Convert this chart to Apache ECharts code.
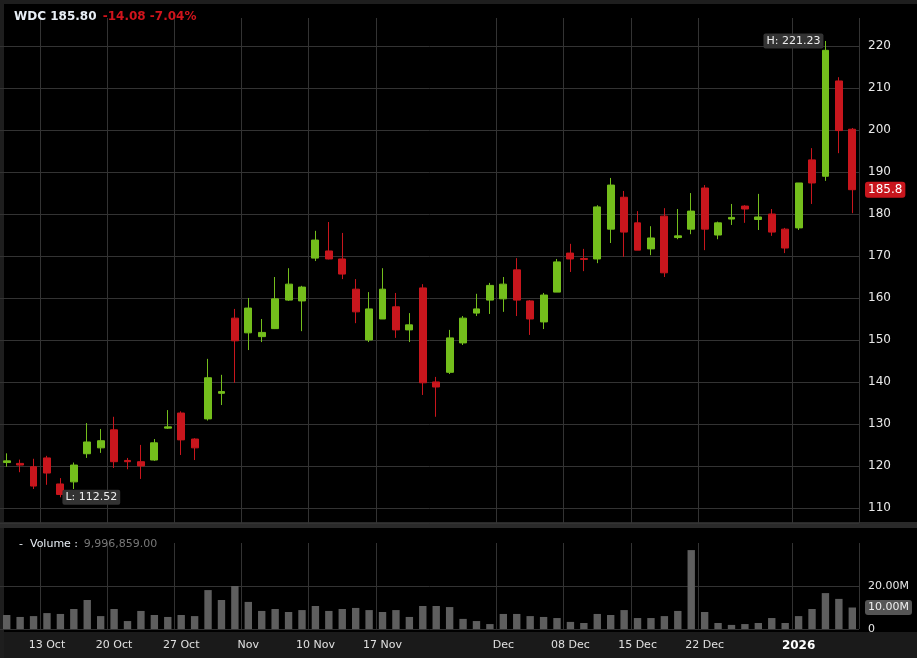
<!DOCTYPE html>
<html>
<head>
<meta charset="utf-8">
<script src="https://cdn.jsdelivr.net/npm/echarts@6/dist/echarts.min.js"></script>
<style>html,body{margin:0;background:#000;}#chart{width:917px;height:658px;}</style>
</head>
<body>
<div id="chart"></div>
<script>
// trading days, 8 Oct 2025 .. 8 Jan 2026
const dates = [
  '2025-10-08','2025-10-09','2025-10-10','2025-10-13','2025-10-14','2025-10-15','2025-10-16','2025-10-17',
  '2025-10-20','2025-10-21','2025-10-22','2025-10-23','2025-10-24','2025-10-27','2025-10-28','2025-10-29',
  '2025-10-30','2025-10-31','2025-11-03','2025-11-04','2025-11-05','2025-11-06','2025-11-07','2025-11-10',
  '2025-11-11','2025-11-12','2025-11-13','2025-11-14','2025-11-17','2025-11-18','2025-11-19','2025-11-20',
  '2025-11-21','2025-11-24','2025-11-25','2025-11-26','2025-11-28','2025-12-01','2025-12-02','2025-12-03',
  '2025-12-04','2025-12-05','2025-12-08','2025-12-09','2025-12-10','2025-12-11','2025-12-12','2025-12-15',
  '2025-12-16','2025-12-17','2025-12-18','2025-12-19','2025-12-22','2025-12-23','2025-12-24','2025-12-26',
  '2025-12-29','2025-12-30','2025-12-31','2026-01-02','2026-01-05','2026-01-06','2026-01-07','2026-01-08'
];
const opens = [120.8,120.6,119.8,121.9,115.7,116.2,122.9,124.3,128.6,121.3,121,121.4,129,132.6,126.4,131.2,
  137.3,155.2,151.7,150.8,152.7,159.5,159.3,169.5,171.2,169.3,162.1,150,155,157.9,152.4,162.4,
  140,142.3,149.3,156.4,159.5,159.8,166.7,159.3,154.3,161.4,170.7,169.4,169.3,176.4,184,177.9,
  171.7,179.5,174.4,176.4,186.2,175,178.8,181.9,178.7,180,176.4,176.7,192.9,189,211.7,200.2];
const closes = [121.2,120.2,115.2,118.3,113.2,120.2,125.7,126,121,121,120,125.5,129.3,126.2,124.3,141,
  137.7,149.8,157.6,151.8,159.8,163.3,162.6,173.8,169.3,165.7,156.7,157.4,162.1,152.4,153.6,139.8,
  138.8,150.5,155.2,157.4,163,163.3,159.5,155,160.7,168.6,169.3,169.2,181.7,186.9,175.7,171.4,
  174.3,166,174.8,180.7,176.4,177.9,179.2,181.2,179.3,175.7,171.9,187.4,187.4,219,199.88,185.8];
const lows = [119.8,118.5,114.5,115.5,112.52,114.5,121.9,123.1,119.5,119.2,116.9,121.2,128.8,122.6,121.4,130.8,
  134.5,139.8,147.6,149.5,152.6,159.3,152.1,168.8,169.2,164.5,154,149.5,155,150.5,149.5,136.9,
  131.7,141.9,148.8,155.7,156.2,156.7,155.7,151.2,152.6,161.4,166.2,166.4,168.3,173.1,169.8,171.4,
  170.2,165,174,175.2,171.4,174,177.4,177.9,176.2,174.8,170.7,176.2,182.4,187.9,194.5,180.2];
const highs = [123,121.5,121.7,122.4,117.1,120.8,130.2,128.8,131.7,121.9,125,126.4,133.3,133,126.6,145.5,
  141.7,157.4,160,155,165,167.1,162.9,176,178.1,175.5,164.5,161.4,167.1,161.2,156.4,163.3,
  141.2,152.4,155.7,161,163.6,165,169.5,159.5,161.2,169.3,172.9,171.7,182.1,188.6,185.5,180.7,
  177.1,181.4,181.2,185,186.9,178.2,182.4,182.1,184.8,181.2,176.7,187.4,195.7,221.23,212.6,200.5];
// volume in millions of shares
const volumes = [6.5,5.6,6,7.4,7,9.3,13.5,6,9.3,3.7,8.4,6.5,5.6,6.5,6,18.1,13.5,20,12.6,8.4,9.3,7.9,8.8,10.7,
  8.4,9.3,9.8,8.8,7.9,8.8,5.6,10.7,10.7,10.2,4.7,3.7,2.3,7,7,6,5.6,5.1,3.3,2.8,7,6.5,8.8,5.1,
  5.1,6,8.4,36.7,7.9,2.8,1.9,2.3,2.8,5.1,2.8,6,9.3,16.7,14,9.996859];
// first day shown for each labelled week
const weekStarts = {3:'13 Oct',8:'20 Oct',13:'27 Oct',18:'Nov',23:'10 Nov',28:'17 Nov',37:'Dec',
  42:'08 Dec',47:'15 Dec',52:'22 Dec',59:'2026'};

const UP = '#74be1c', DOWN = '#c8161d', GRIDC = '#333';
const last = dates.length - 1;
const candles = dates.map((d, i) => [opens[i], closes[i], lows[i], highs[i]]);
const hiIdx = highs.indexOf(Math.max(...highs));
const loIdx = lows.indexOf(Math.min(...lows));
const isWeek = i => weekStarts[i] !== undefined;

const chart = echarts.init(document.getElementById('chart'));
const xCommon = {
  type: 'category', data: dates, boundaryGap: true,
  axisLine: {show: false}, axisTick: {show: false},
  splitLine: {show: true, interval: (i) => isWeek(i), lineStyle: {color: GRIDC}}
};
chart.setOption({
  backgroundColor: '#000',
  animation: false,
  textStyle: {fontFamily: 'DejaVu Sans'},
  graphic: [
    {type: 'rect', shape: {x: 0, y: 0, width: 917, height: 4}, style: {fill: '#1e1e1e'}},
    {type: 'rect', shape: {x: 0, y: 0, width: 4, height: 658}, style: {fill: '#1e1e1e'}},
    {type: 'rect', shape: {x: 0, y: 522, width: 917, height: 6}, style: {fill: '#2a2a2a'}},
    {type: 'rect', shape: {x: 0, y: 632, width: 917, height: 26}, style: {fill: '#1a1a1a'}, z: -1}
  ],
  title: [
    {left: 9, top: 3, text: '{a|WDC 185.80} {b|-14.08 -7.04%}',
     textStyle: {rich: {a: {color: '#e8eef5', fontWeight: 'bold', fontSize: 12},
                        b: {color: '#d0141c', fontWeight: 'bold', fontSize: 12}}}},
    {left: 14, top: 530, text: '{a|-  Volume :} {b|9,996,859.00}',
     textStyle: {fontWeight: 'normal', rich: {a: {color: '#e8eef5', fontSize: 11, fontWeight: 'normal'},
       b: {color: '#777', fontSize: 11, fontWeight: 'normal'}}}}
  ],
  grid: [
    {left: -2, right: 58, top: 18, bottom: 658 - 523},
    {left: -2, right: 58, top: 543, bottom: 658 - 629}
  ],
  xAxis: [
    Object.assign({gridIndex: 0, axisLabel: {show: false}}, xCommon),
    Object.assign({gridIndex: 1, axisLabel: {
      show: true, interval: (i) => isWeek(i), color: '#e0e0e0', fontSize: 11, margin: 11,
      formatter: (v, i) => weekStarts[i] === '2026' ? '{b|2026}' : weekStarts[i],
      rich: {b: {fontWeight: 'bold', color: '#fff', fontSize: 12}}
    }}, xCommon)
  ],
  yAxis: [
    {gridIndex: 0, position: 'right', scale: true, min: 106.4, max: 226.7, splitNumber: 12,
     axisLine: {show: false}, axisTick: {show: false},
     axisLabel: {color: '#e8e8e8', fontSize: 12, margin: 9, showMinLabel: false, showMaxLabel: false},
     splitLine: {showMaxLine: false, lineStyle: {color: GRIDC}}},
    {gridIndex: 1, position: 'right', min: 0, max: 40, interval: 20,
     axisLine: {show: false}, axisTick: {show: false},
     axisLabel: {color: '#e8e8e8', fontSize: 11, margin: 9, showMaxLabel: false,
       formatter: v => v === 0 ? '0' : v.toFixed(2) + 'M'},
     splitLine: {showMaxLine: false, lineStyle: {color: GRIDC}}}
  ],
  series: [
    {type: 'candlestick', xAxisIndex: 0, yAxisIndex: 0, data: candles, barWidth: '55%',
     itemStyle: {color: UP, color0: DOWN, borderColor: UP, borderColor0: DOWN, borderWidth: 1},
     markPoint: {symbol: 'circle', symbolSize: 0, silent: true, data: [
       {coord: [hiIdx, highs[hiIdx]], label: {show: true, position: 'left', distance: 2,
         formatter: 'H: ' + highs[hiIdx].toFixed(2), color: '#eee', fontSize: 11,
         backgroundColor: '#333', padding: [2, 3], borderRadius: 2}},
       {coord: [loIdx, lows[loIdx]], label: {show: true, position: 'right', distance: 2,
         formatter: 'L: ' + lows[loIdx].toFixed(2), color: '#eee', fontSize: 11,
         backgroundColor: '#333', padding: [2, 3], borderRadius: 2}}
     ]},
     markLine: {symbol: 'none', silent: true, lineStyle: {color: 'rgba(0,0,0,0)', type: 'solid'},
       data: [{yAxis: closes[last]}],
       label: {show: true, position: 'end', distance: 6, formatter: String(closes[last]), color: '#fff',
         fontSize: 12, backgroundColor: DOWN, padding: [2, 3], borderRadius: 3}}},
    {type: 'bar', xAxisIndex: 1, yAxisIndex: 1, data: volumes, barWidth: '55%',
     itemStyle: {color: '#5e5e5e'},
     markLine: {symbol: 'none', silent: true, lineStyle: {color: 'rgba(0,0,0,0)', type: 'solid'},
       data: [{yAxis: volumes[last]}],
       label: {show: true, position: 'end', distance: 6, formatter: '10.00M', color: '#eee',
         fontSize: 11, backgroundColor: '#555', padding: [2, 3], borderRadius: 3}}}
  ]
});
</script>
</body>
</html>
